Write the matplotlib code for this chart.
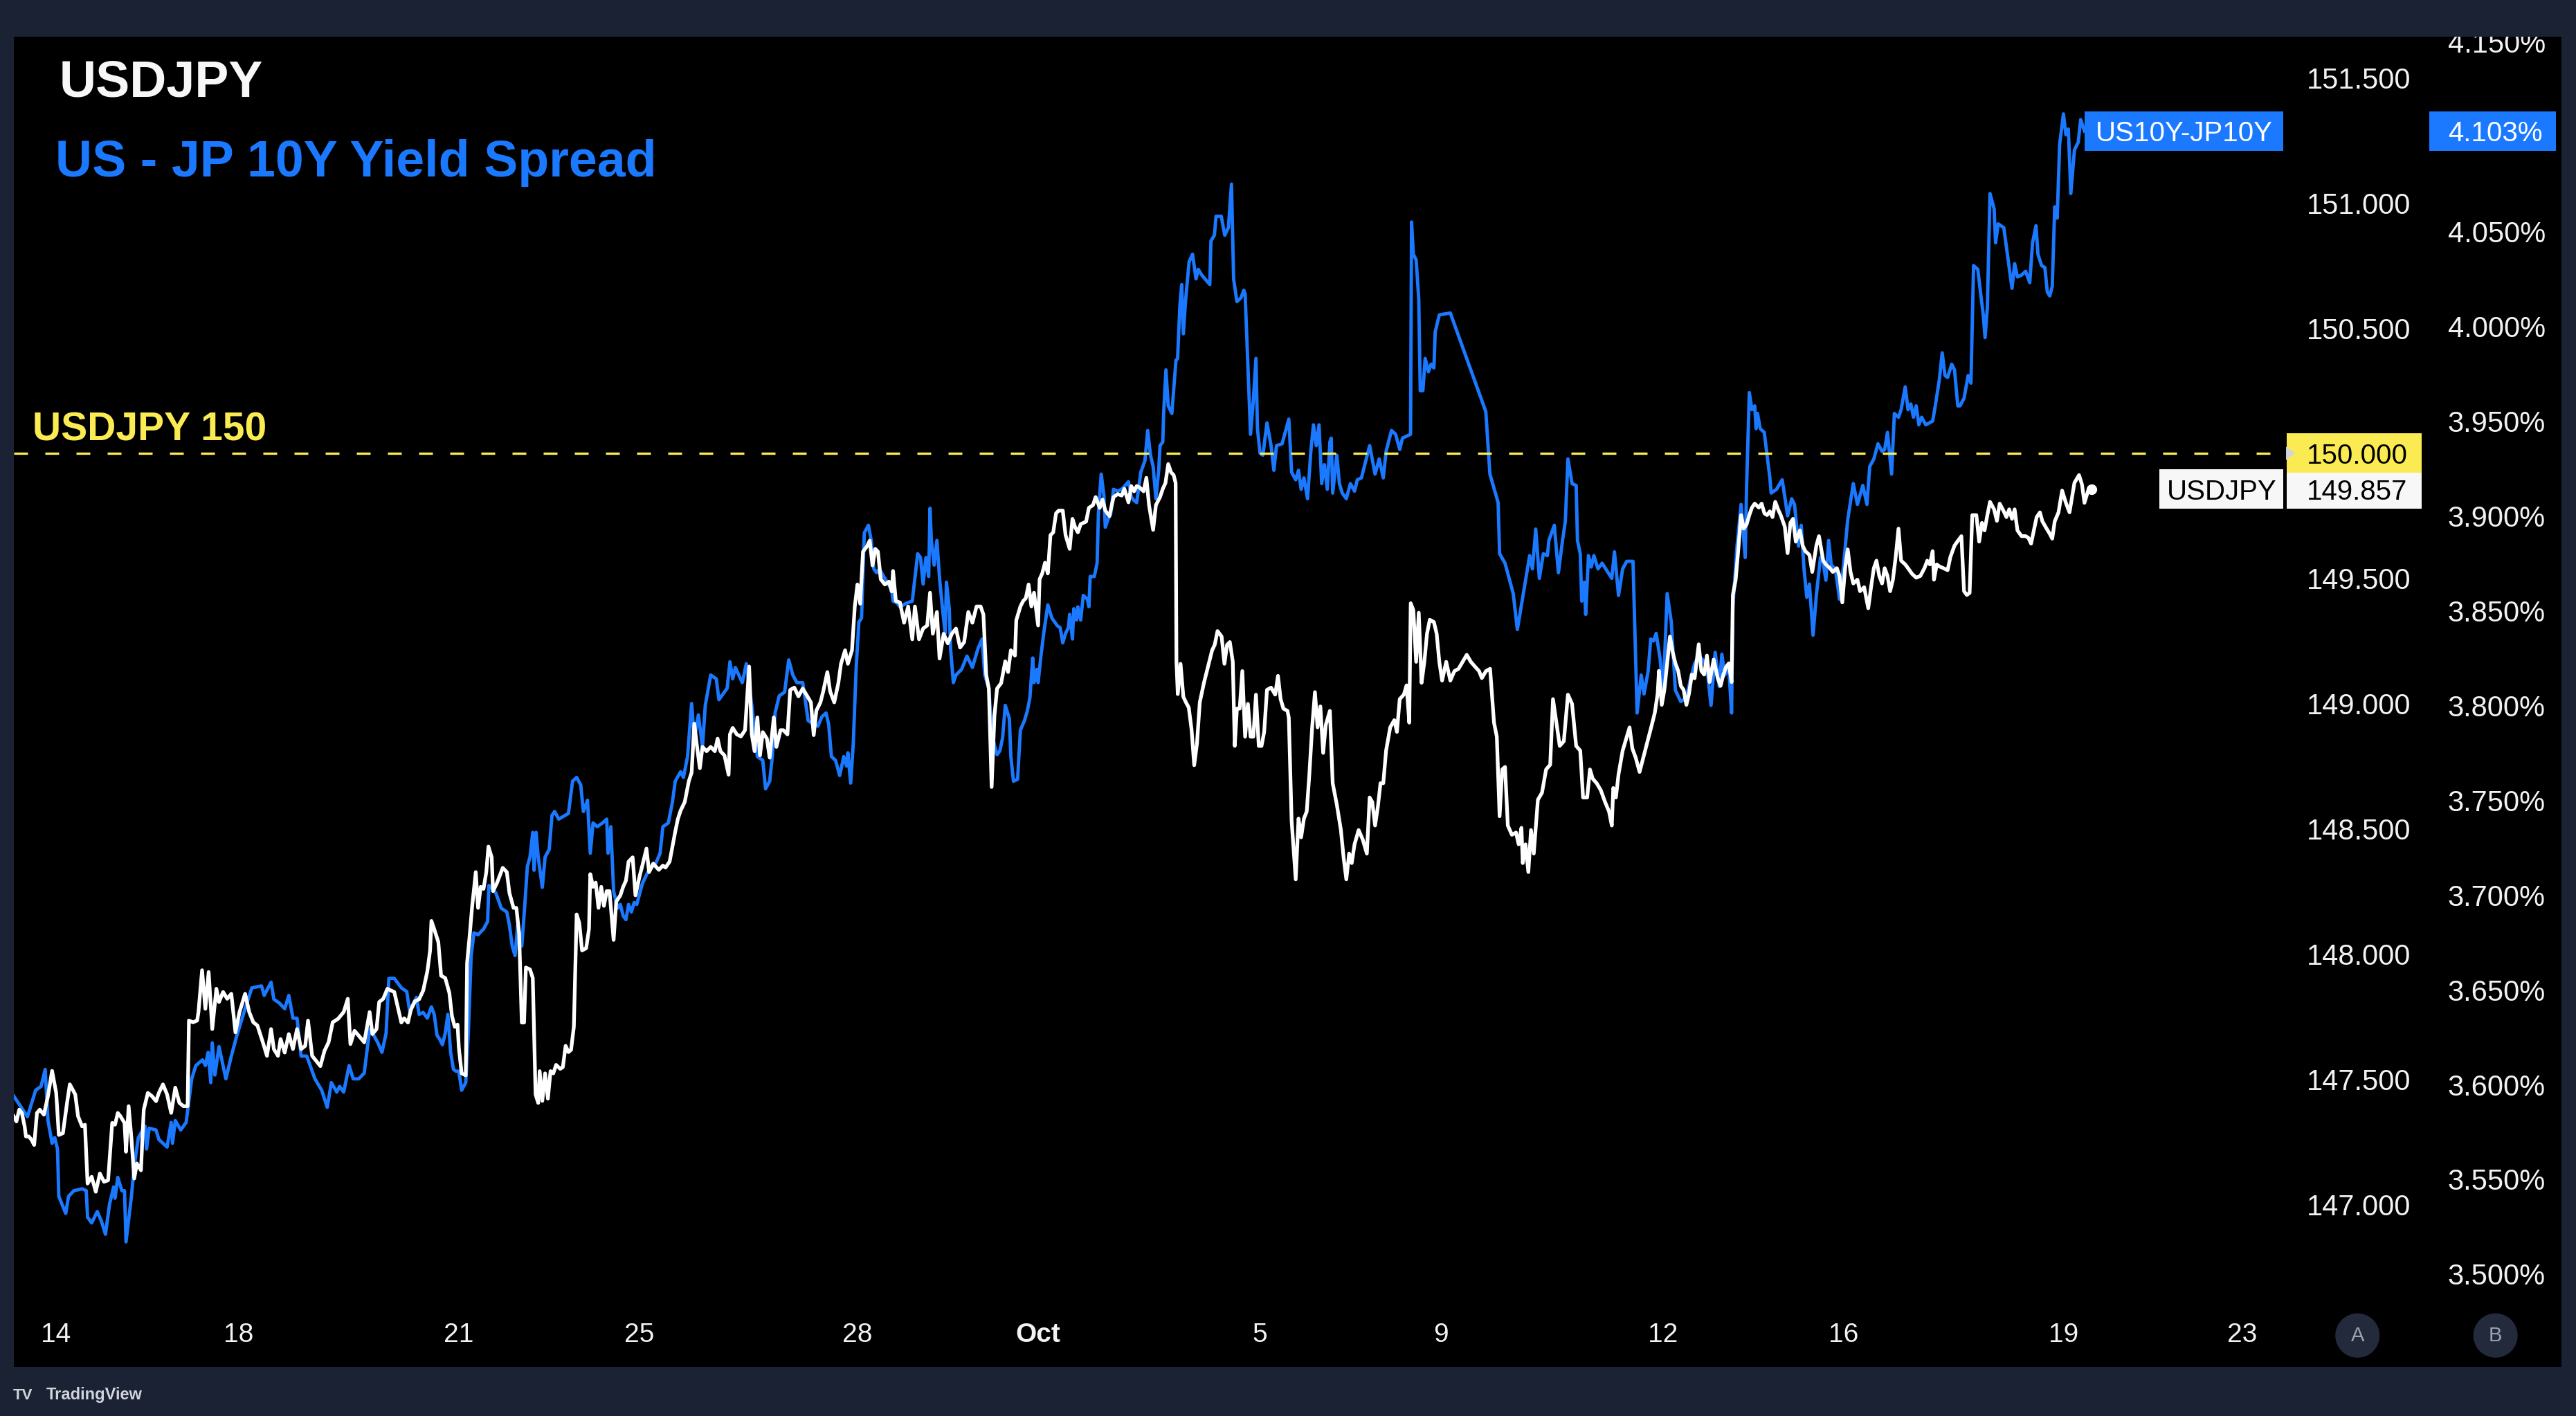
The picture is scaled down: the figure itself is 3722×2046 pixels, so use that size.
import matplotlib
matplotlib.use("Agg")
import matplotlib.pyplot as plt
import matplotlib.patches as patches
from matplotlib.ticker import FuncFormatter

plt.rcParams["font.family"] = ["Liberation Sans", "DejaVu Sans"]

# ---- data: 30-minute bars counted from the left edge of the chart ----
usdjpy_bars = [
    0.3, 2.0, 3.7, 5.3, 7.0, 7.8, 9.5, 11.2, 12.8, 14.5, 16.2, 18.7, 21.2, 23.7, 26.2, 27.8,
    30.3, 32.8, 34.5, 37.8, 39.5, 42.0, 43.7, 45.3, 47.8, 50.3, 52.8, 55.3, 57.8, 60.3, 62.0,
    63.7, 65.3, 67.8, 68.7, 70.3, 72.0, 73.7, 75.3, 77.8, 79.5, 82.0, 84.5, 87.0, 88.7, 91.2,
    93.7, 96.2, 98.7, 101.2, 103.7, 106.2, 107.0, 109.5, 112.0, 112.8, 115.0, 117.0, 119.0,
    121.2, 123.7, 125.3, 127.8, 130.3, 132.8, 135.3, 137.8, 141.2, 143.7, 146.2, 148.7, 152.0,
    154.5, 157.0, 158.7, 161.2, 162.8, 165.3, 167.8, 170.3, 172.8, 175.3, 177.8, 179.5, 182.0,
    185.3, 187.0, 189.5, 192.0, 194.5, 197.8, 201.2, 203.7, 205.3, 207.8, 210.3, 213.7, 217.0,
    218.7, 221.2, 222.8, 225.3, 227.8, 232.0, 236.3, 238.0, 240.3, 242.1, 244.6, 247.1, 249.6,
    252.1, 253.8, 254.6, 256.3, 258.8, 260.5, 263.0, 265.5, 267.1, 268.8, 270.5, 271.3, 273.0,
    275.5, 276.3, 278.0, 279.3, 280.5, 281.6, 283.0, 284.6, 286.3, 288.0, 289.3, 291.3, 292.1,
    294.6, 298.0, 300.5, 302.1, 304.6, 306.3, 308.0, 309.6, 311.0, 312.1, 314.6, 316.3, 318.0,
    319.6, 320.5, 322.1, 323.8, 325.5, 327.1, 328.8, 330.5, 333.0, 334.6, 336.3, 338.0, 339.6,
    341.3, 343.0, 344.6, 346.3, 348.8, 350.5, 351.3, 353.0, 354.6, 356.3, 358.0, 359.6, 361.3,
    363.0, 365.5, 367.1, 369.6, 371.3, 373.0, 374.6, 377.1, 378.8, 381.3, 383.0, 385.5, 387.1,
    389.6, 393.0, 395.5, 397.1, 399.6, 401.3, 403.0, 404.6, 406.3, 408.8, 411.3, 413.0, 414.6,
    416.3, 418.0, 419.6, 422.1, 424.6, 427.1, 428.8, 430.5, 433.0, 435.5, 436.3, 438.0, 440.5,
    443.0, 445.5, 448.0, 449.6, 451.3, 453.0, 454.6, 456.3, 458.8, 460.5, 463.0, 464.6, 467.1,
    468.8, 471.3, 473.0, 475.5, 478.0, 480.6, 483.1, 485.6, 487.3, 488.9, 491.4, 493.1, 495.6,
    497.3, 499.8, 502.3, 503.9, 506.4, 508.1, 510.6, 512.3, 513.9, 515.6, 517.3, 519.8, 521.4,
    523.1, 524.8, 526.4, 528.1, 530.6, 533.1, 534.8, 535.6, 537.3, 539.8, 542.3, 544.8, 547.3,
    548.9, 551.4, 553.9, 556.4, 558.1, 559.8, 562.3, 563.9, 566.4, 568.9, 571.4, 573.9, 576.4,
    578.9, 581.4, 583.9, 586.4, 588.9, 590.6, 592.3, 593.9, 595.6, 597.3, 598.9, 601.4, 603.9,
    605.6, 607.3, 609.8, 610.6, 613.1, 614.8, 616.4, 618.1, 619.8, 621.4, 623.9, 624.8, 626.4,
    628.1, 629.8, 631.4, 633.1, 634.8, 636.4, 638.9, 640.6, 643.1, 644.8, 646.4, 648.1, 649.8,
    653.1, 654.8, 657.3, 658.9, 661.4, 663.1, 664.8, 667.3, 669.8, 672.3, 674.8, 676.4, 678.9,
    680.6, 682.3, 683.9, 685.6, 688.1, 689.8, 691.4, 693.9, 695.6, 698.1, 699.8, 701.4, 703.1,
    704.8, 706.4, 707.6, 708.1, 708.9, 710.6, 712.3, 713.9, 715.6, 717.3, 718.9, 720.6, 722.3,
    724.8, 727.3, 729.8, 731.4, 733.1, 735.6, 737.3, 738.9, 740.6, 742.4, 743.6, 744.9, 746.6,
    748.2, 749.9, 751.6, 753.2, 754.9, 756.5, 758.2, 759.9, 761.5, 763.2, 765.7, 768.2, 769.9,
    771.5, 773.2, 775.7, 776.5, 778.2, 780.7, 782.4, 784.0, 785.7, 787.4, 789.0, 790.7, 792.4,
    794.0, 795.7, 797.4, 799.0, 801.5, 803.2, 805.7, 808.2, 809.9, 811.5, 813.2, 814.8, 816.5,
    819.0, 821.5, 824.0, 825.7, 827.3, 829.0, 830.7, 832.3, 834.0, 835.7, 838.2, 840.7, 842.3,
    844.0, 846.5, 848.2, 849.8, 850.7, 852.3, 854.0, 855.6, 857.3, 859.0, 860.6, 862.3, 864.8,
    866.5, 868.1, 869.8, 872.3, 874.8, 877.3, 879.8, 882.3, 884.8, 887.3, 889.8, 892.3, 894.0,
    896.5, 899.0, 901.4, 903.1, 904.8, 906.4, 908.1, 909.8, 912.3, 914.8, 916.4, 918.1, 918.9,
    920.6, 922.3, 923.9, 925.6, 928.1, 930.6, 933.1, 935.6, 937.3, 939.8, 941.4, 943.9, 946.4,
    948.9, 951.4, 953.9, 955.6, 958.1, 959.8, 961.5, 963.9, 966.4, 969.0, 971.4, 973.1, 974.0,
    975.6, 977.2, 979.7, 982.2, 983.9, 985.6, 987.7, 990.0, 995.2, 997.6, 999.3, 1001.0,
    1001.8, 1003.5, 1005.1, 1006.8, 1008.5, 1010.1, 1011.8, 1013.5, 1015.1, 1016.8, 1018.5,
    1020.1, 1021.8, 1023.5, 1026.0, 1027.6, 1029.3, 1031.0, 1032.6, 1035.1, 1037.6, 1039.3,
    1041.0, 1042.6, 1044.3, 1046.0, 1046.8, 1048.5, 1050.1, 1051.0, 1051.8, 1053.4, 1055.1,
    1056.8, 1058.4, 1060.1, 1062.6, 1064.3, 1066.0, 1067.6, 1069.3, 1070.9, 1072.6, 1074.3,
    1075.9, 1078.4, 1080.1, 1081.8, 1083.4, 1085.1, 1087.6, 1089.3, 1090.9, 1093.4, 1095.1,
    1097.6, 1099.2, 1101.8, 1103.4, 1105.9, 1107.6, 1110.1, 1111.7, 1113.4, 1115.1, 1116.7,
    1118.4, 1120.1, 1122.6, 1124.2, 1126.7, 1129.2, 1130.9, 1132.6, 1134.2, 1135.9, 1137.6,
    1139.2, 1140.9, 1142.5, 1144.2, 1145.9, 1147.6, 1149.2, 1151.7, 1153.4, 1155.9, 1158.4,
    1160.9, 1163.4, 1165.1, 1166.7, 1168.4, 1169.2, 1170.9, 1172.5, 1175.0, 1177.5, 1179.2,
    1181.7, 1183.4, 1185.9, 1187.5, 1189.2, 1190.9, 1192.5, 1195.0, 1196.7, 1198.4, 1200.0,
    1201.7, 1203.3, 1205.8, 1207.5, 1209.2, 1211.7, 1213.3, 1215.0, 1216.7, 1218.3, 1220.0,
    1222.5, 1225.0, 1226.7, 1228.3, 1230.0, 1231.7, 1233.7, 1235.2, 1237.4, 1239.7, 1241.2,
    1242.7, 1245.0, 1247.2, 1249.5, 1251.7, 1254.7, 1257.5, 1259.3, 1260.8, 1263.0, 1265.3,
]
usdjpy = [
    147.352, 147.331, 147.378, 147.365, 147.311, 147.271, 147.271, 147.258, 147.237, 147.365,
    147.378, 147.358, 147.432, 147.533, 147.445, 147.277, 147.284, 147.405, 147.479, 147.439,
    147.352, 147.311, 147.318, 147.083, 147.110, 147.050, 147.123, 147.090, 147.096, 147.325,
    147.318, 147.365, 147.352, 147.325, 147.210, 147.392, 147.264, 147.103, 147.163, 147.136,
    147.378, 147.445, 147.432, 147.412, 147.445, 147.479, 147.439, 147.365, 147.466, 147.405,
    147.392, 147.392, 147.734, 147.727, 147.734, 147.768, 147.935, 147.781, 147.928, 147.700,
    147.861, 147.808, 147.848, 147.821, 147.841, 147.687, 147.768, 147.841, 147.768, 147.727,
    147.714, 147.647, 147.593, 147.700, 147.620, 147.593, 147.660, 147.606, 147.680, 147.620,
    147.700, 147.620, 147.633, 147.734, 147.593, 147.566, 147.552, 147.613, 147.647, 147.727,
    147.741, 147.768, 147.821, 147.640, 147.693, 147.674, 147.647, 147.768, 147.680, 147.700,
    147.808, 147.821, 147.861, 147.848, 147.726, 147.743, 147.726, 147.777, 147.811, 147.819,
    147.854, 147.930, 148.014, 148.132, 148.099, 148.048, 147.913, 147.904, 147.845, 147.752,
    147.709, 147.718, 147.625, 147.523, 147.515, 147.963, 148.082, 148.184, 148.260, 148.327,
    148.184, 148.268, 148.260, 148.327, 148.429, 148.386, 148.251, 148.285, 148.344, 148.327,
    148.243, 148.184, 148.184, 148.082, 147.726, 147.726, 147.946, 147.938, 147.904, 147.439,
    147.405, 147.532, 147.413, 147.523, 147.422, 147.532, 147.523, 147.557, 147.541, 147.548,
    147.633, 147.608, 147.617, 147.709, 148.158, 148.124, 148.014, 148.023, 148.099, 148.319,
    148.268, 148.285, 148.184, 148.268, 148.192, 148.251, 148.251, 148.056, 148.209, 148.234,
    148.268, 148.293, 148.369, 148.386, 148.234, 148.310, 148.353, 148.421, 148.327, 148.361,
    148.336, 148.353, 148.345, 148.369, 148.429, 148.488, 148.539, 148.573, 148.607, 148.691,
    148.725, 148.920, 148.827, 148.742, 148.827, 148.810, 148.827, 148.810, 148.860, 148.810,
    148.793, 148.716, 148.877, 148.903, 148.877, 148.869, 148.894, 149.148, 148.877, 148.810,
    148.945, 148.793, 148.886, 148.860, 148.784, 148.945, 148.827, 148.894, 148.894, 148.877,
    149.055, 149.064, 149.029, 149.060, 149.033, 149.005, 148.874, 148.972, 149.005, 149.049,
    149.126, 149.049, 149.005, 149.082, 149.159, 149.213, 149.159, 149.213, 149.388, 149.476,
    149.399, 149.607, 149.629, 149.651, 149.552, 149.618, 149.607, 149.497, 149.476, 149.487,
    149.448, 149.530, 149.410, 149.404, 149.323, 149.388, 149.257, 149.388, 149.257, 149.300,
    149.312, 149.443, 149.279, 149.366, 149.180, 149.279, 149.241, 149.279, 149.300, 149.224,
    149.246, 149.366, 149.323, 149.388, 149.388, 149.356, 149.115, 149.060, 148.667, 148.951,
    149.060, 149.082, 149.169, 149.126, 149.213, 149.192, 149.333, 149.388, 149.410, 149.421,
    149.476, 149.388, 149.443, 149.312, 149.497, 149.520, 149.563, 149.520, 149.673, 149.684,
    149.760, 149.771, 149.771, 149.673, 149.618, 149.738, 149.705, 149.684, 149.717, 149.727,
    149.782, 149.793, 149.825, 149.782, 149.815, 149.771, 149.749, 149.825, 149.837, 149.831,
    149.858, 149.804, 149.869, 149.848, 149.869, 149.864, 149.848, 149.902, 149.793, 149.694,
    149.793, 149.825, 149.858, 149.881, 149.957, 149.924, 149.913, 149.881, 149.169, 149.038,
    149.159, 149.027, 149.005, 148.984, 148.896, 148.754, 148.841, 149.005, 149.082, 149.148,
    149.213, 149.235, 149.290, 149.268, 149.159, 149.235, 149.246, 149.167, 148.831, 148.980,
    148.980, 149.130, 148.868, 148.999, 148.868, 148.868, 149.036, 148.831, 148.831, 148.887,
    149.055, 149.064, 149.036, 149.111, 149.018, 148.980, 148.971, 148.943, 148.532, 148.298,
    148.541, 148.466, 148.541, 148.569, 148.718, 148.905, 149.046, 148.905, 148.989, 148.803,
    148.915, 148.971, 148.682, 148.597, 148.495, 148.382, 148.298, 148.401, 148.363, 148.438,
    148.495, 148.457, 148.401, 148.625, 148.607, 148.513, 148.588, 148.682, 148.682, 148.812,
    148.905, 148.934, 148.887, 149.018, 149.036, 149.073, 148.924, 149.401, 149.373, 149.167,
    149.363, 149.083, 149.167, 149.279, 149.335, 149.326, 149.279, 149.167, 149.092, 149.167,
    149.092, 149.130, 149.139, 149.167, 149.195, 149.167, 149.148, 149.130, 149.102, 149.130,
    149.139, 148.924, 148.868, 148.550, 148.737, 148.747, 148.513, 148.476, 148.485, 148.438,
    148.504, 148.363, 148.438, 148.327, 148.495, 148.401, 148.616, 148.644, 148.737, 148.756,
    149.018, 148.905, 148.831, 148.850, 149.036, 148.999, 148.831, 148.812, 148.625, 148.625,
    148.737, 148.700, 148.682, 148.654, 148.607, 148.569, 148.513, 148.663, 148.625, 148.718,
    148.812, 148.868, 148.905, 148.821, 148.783, 148.727, 148.858, 148.919, 148.964, 149.040,
    149.131, 148.995, 149.055, 149.161, 149.268, 149.207, 149.161, 149.131, 149.071, 149.055,
    148.995, 149.040, 149.116, 149.101, 149.237, 149.131, 149.116, 149.192, 149.086, 149.176,
    149.101, 149.071, 149.116, 149.146, 149.161, 149.086, 149.434, 149.495, 149.616, 149.692,
    149.753, 149.699, 149.715, 149.753, 149.783, 149.799, 149.783, 149.799, 149.760, 149.753,
    149.768, 149.745, 149.806, 149.776, 149.753, 149.707, 149.601, 149.722, 149.738, 149.647,
    149.692, 149.631, 149.609, 149.594, 149.526, 149.631, 149.669, 149.571, 149.556, 149.541,
    149.526, 149.541, 149.510, 149.404, 149.541, 149.616, 149.526, 149.480, 149.495, 149.449,
    149.465, 149.381, 149.465, 149.541, 149.571, 149.510, 149.480, 149.541, 149.510, 149.449,
    149.495, 149.586, 149.699, 149.571, 149.556, 149.541, 149.518, 149.503, 149.510, 149.541,
    149.571, 149.556, 149.609, 149.495, 149.556, 149.548, 149.541, 149.533, 149.586, 149.631,
    149.647, 149.669, 149.449, 149.434, 149.442, 149.753, 149.753, 149.647, 149.722, 149.692,
    149.753, 149.806, 149.776, 149.730, 149.799, 149.768, 149.745, 149.776, 149.738, 149.776,
    149.692, 149.669, 149.669, 149.662, 149.639, 149.692, 149.745, 149.764, 149.728, 149.703,
    149.678, 149.659, 149.728, 149.764, 149.851, 149.802, 149.764, 149.882, 149.913, 149.875,
    149.802, 149.850, 149.857,
]

spread_bars = [
    0.3, 8.7, 13.7, 17.0, 19.5, 21.2, 23.7, 25.3, 27.0, 27.8, 32.0, 33.7, 37.0, 42.0, 44.5,
    45.3, 47.8, 51.2, 53.7, 56.2, 58.7, 61.2, 62.0, 63.7, 66.2, 67.8, 68.7, 72.0, 73.7, 76.2,
    80.3, 81.2, 82.8, 87.0, 88.7, 93.7, 96.2, 97.0, 98.7, 102.0, 105.3, 108.7, 111.2, 115.3,
    117.0, 118.7, 120.3, 121.2, 122.8, 125.3, 129.5, 132.8, 136.2, 141.2, 145.3, 151.2, 152.8,
    157.0, 158.7, 162.0, 165.3, 167.8, 170.3, 172.8, 175.3, 178.7, 183.7, 187.8, 191.2, 193.7,
    197.0, 198.7, 201.2, 204.5, 207.0, 210.3, 213.7, 217.0, 219.5, 222.0, 224.5, 227.0, 228.7,
    232.0, 236.3, 239.6, 241.3, 245.5, 247.1, 249.6, 252.1, 254.6, 256.3, 258.0, 259.6, 261.3,
    263.0, 264.6, 266.3, 268.0, 269.6, 271.3, 273.0, 275.5, 277.1, 278.8, 280.5, 283.0, 286.3,
    288.8, 289.6, 292.1, 293.8, 295.5, 297.1, 298.8, 300.5, 302.1, 303.8, 305.5, 307.1, 309.6,
    311.3, 313.0, 314.6, 316.3, 317.1, 318.3, 319.6, 322.1, 323.8, 326.3, 328.0, 329.6, 332.1,
    338.0, 340.5, 343.0, 345.5, 347.1, 349.6, 351.3, 353.0, 355.5, 358.8, 361.3, 362.1, 363.8,
    365.5, 368.0, 369.6, 371.3, 373.0, 374.6, 376.3, 378.0, 379.6, 383.0, 386.3, 391.3, 393.8,
    395.5, 398.8, 401.3, 403.0, 406.3, 408.0, 410.5, 413.0, 414.6, 417.1, 419.6, 421.3, 424.6,
    428.0, 429.6, 434.6, 436.3, 438.0, 439.6, 443.8, 446.3, 449.6, 453.0, 456.3, 458.0, 460.5,
    462.1, 463.8, 466.3, 469.6, 472.1, 474.6, 477.1, 480.6, 482.3, 483.9, 487.3, 489.8, 492.3,
    494.8, 496.4, 498.1, 500.6, 503.1, 505.6, 507.3, 508.1, 509.8, 511.4, 513.1, 514.8, 516.4,
    518.1, 520.6, 522.3, 523.9, 525.6, 527.3, 530.6, 534.8, 535.6, 538.1, 539.8, 543.9, 547.3,
    548.9, 550.6, 552.3, 553.9, 555.6, 557.3, 558.1, 558.9, 560.6, 562.3, 563.9, 565.6, 567.3,
    568.1, 569.8, 570.6, 572.3, 573.9, 577.3, 580.6, 583.9, 587.3, 589.8, 591.4, 593.9, 595.6,
    597.3, 598.9, 600.6, 602.3, 603.9, 606.4, 607.3, 608.9, 611.4, 613.1, 615.6, 617.3, 618.9,
    620.6, 621.4, 623.1, 623.9, 625.6, 627.3, 629.8, 632.3, 635.6, 637.3, 638.9, 640.6, 642.3,
    643.1, 644.8, 645.6, 647.3, 648.1, 649.8, 651.4, 653.9, 654.8, 655.6, 658.1, 659.8, 660.6,
    662.3, 663.9, 664.8, 666.4, 668.1, 669.8, 672.3, 674.8, 678.9, 680.6, 682.3, 683.9, 686.4,
    688.9, 690.6, 692.3, 693.9, 695.6, 697.3, 698.1, 699.8, 700.3, 701.7, 703.1, 705.3, 707.8,
    708.8, 710.2, 711.3, 712.3, 713.7, 715.8, 717.9, 720.0, 721.4, 723.5, 728.4, 729.1, 731.2,
    732.2, 735.4, 737.5, 739.7, 741.6, 742.9, 744.9, 747.4, 749.1, 749.9, 751.5, 753.2, 754.9,
    756.5, 757.4, 759.0, 760.7, 763.2, 765.7, 767.4, 769.0, 772.4, 776.5, 778.2, 780.7, 782.4,
    784.0, 785.7, 787.9, 789.9, 791.5, 793.2, 794.9, 796.5, 798.2, 799.9, 801.5, 802.3, 803.2,
    805.7, 807.3, 809.0, 811.5, 814.0, 816.5, 818.2, 820.7, 825.7, 829.0, 831.5, 834.0, 835.7,
    839.0, 841.5, 844.0, 845.7, 850.6, 851.2, 852.3, 854.0, 855.6, 856.5, 858.1, 859.5, 861.5,
    863.1, 864.8, 865.6, 868.1, 874.8, 896.4, 898.9, 903.9, 904.8, 908.1, 913.1, 915.6, 923.1,
    924.8, 926.8, 929.0, 931.4, 933.9, 934.8, 938.1, 940.6, 943.1, 944.8, 946.4, 948.9, 951.4,
    952.2, 953.9, 954.8, 956.4, 957.2, 958.9, 960.6, 962.2, 964.7, 967.2, 973.1, 974.7, 977.2,
    979.7, 982.2, 984.7, 986.0, 988.5, 991.0, 992.7, 995.2, 996.8, 998.5, 1000.1, 1002.6,
    1004.3, 1006.8, 1009.3, 1011.8, 1015.1, 1018.5, 1021.0, 1023.5, 1026.0, 1028.5, 1031.0,
    1033.5, 1036.0, 1038.5, 1040.1, 1041.8, 1044.3, 1046.0, 1046.8, 1049.3, 1051.8, 1053.4,
    1054.3, 1055.1, 1056.8, 1058.4, 1060.1, 1060.9, 1061.8, 1063.4, 1065.9, 1069.3, 1070.1,
    1073.4, 1076.8, 1078.4, 1080.1, 1082.6, 1084.3, 1086.8, 1088.4, 1090.1, 1091.8, 1093.4,
    1095.6, 1097.6, 1100.1, 1101.7, 1103.4, 1105.1, 1106.7, 1109.2, 1111.7, 1114.2, 1116.7,
    1120.1, 1122.6, 1125.9, 1128.4, 1130.1, 1132.6, 1135.1, 1137.6, 1139.2, 1140.9, 1143.4,
    1145.1, 1147.6, 1149.2, 1151.7, 1153.4, 1155.1, 1156.7, 1158.4, 1160.0, 1161.7, 1164.2,
    1168.4, 1170.0, 1172.5, 1174.2, 1175.9, 1177.5, 1180.0, 1181.7, 1183.7, 1185.0, 1187.5,
    1190.0, 1191.7, 1193.3, 1195.9, 1197.5, 1199.2, 1200.3, 1201.7, 1203.3, 1205.8, 1206.7,
    1208.3, 1211.7, 1214.2, 1216.7, 1218.3, 1220.0, 1222.5, 1225.0, 1227.5, 1229.2, 1231.3,
    1232.5, 1234.7, 1236.7, 1238.2, 1239.7, 1241.2, 1242.7, 1244.2, 1245.7, 1248.0, 1249.5,
    1251.0, 1252.5, 1254.7, 1257.0, 1258.5, 1260.8,
]
spread = [
    3.594, 3.583, 3.597, 3.599, 3.608, 3.581, 3.569, 3.572, 3.566, 3.541, 3.532, 3.541, 3.544,
    3.545, 3.544, 3.530, 3.527, 3.533, 3.528, 3.521, 3.537, 3.546, 3.540, 3.551, 3.544, 3.544,
    3.517, 3.541, 3.557, 3.572, 3.578, 3.566, 3.577, 3.576, 3.571, 3.567, 3.580, 3.569, 3.581,
    3.576, 3.580, 3.603, 3.610, 3.613, 3.610, 3.617, 3.601, 3.622, 3.605, 3.620, 3.603, 3.615,
    3.626, 3.640, 3.651, 3.652, 3.647, 3.654, 3.645, 3.643, 3.640, 3.647, 3.635, 3.635, 3.615,
    3.615, 3.603, 3.597, 3.588, 3.601, 3.596, 3.599, 3.596, 3.610, 3.603, 3.603, 3.606, 3.629,
    3.626, 3.622, 3.617, 3.627, 3.656, 3.656, 3.651, 3.649, 3.639, 3.646, 3.637, 3.638, 3.635,
    3.641, 3.637, 3.626, 3.624, 3.621, 3.627, 3.637, 3.617, 3.608, 3.607, 3.607, 3.597, 3.601,
    3.628, 3.668, 3.680, 3.679, 3.682, 3.686, 3.705, 3.703, 3.701, 3.697, 3.693, 3.692, 3.691,
    3.684, 3.673, 3.668, 3.684, 3.673, 3.693, 3.715, 3.720, 3.733, 3.713, 3.733, 3.720, 3.704,
    3.720, 3.724, 3.742, 3.744, 3.740, 3.743, 3.760, 3.762, 3.758, 3.744, 3.750, 3.722, 3.738,
    3.736, 3.738, 3.740, 3.722, 3.736, 3.702, 3.693, 3.695, 3.689, 3.687, 3.695, 3.691, 3.696,
    3.695, 3.706, 3.712, 3.717, 3.722, 3.736, 3.738, 3.749, 3.760, 3.765, 3.762, 3.773, 3.801,
    3.782, 3.795, 3.778, 3.800, 3.816, 3.814, 3.803, 3.809, 3.823, 3.814, 3.820, 3.812, 3.822,
    3.800, 3.773, 3.771, 3.756, 3.760, 3.773, 3.796, 3.805, 3.807, 3.824, 3.816, 3.812, 3.812,
    3.802, 3.792, 3.790, 3.789, 3.794, 3.796, 3.790, 3.773, 3.771, 3.763, 3.773, 3.768, 3.775,
    3.759, 3.780, 3.819, 3.844, 3.846, 3.891, 3.895, 3.887, 3.872, 3.870, 3.872, 3.867, 3.861,
    3.855, 3.854, 3.852, 3.854, 3.855, 3.867, 3.880, 3.878, 3.864, 3.878, 3.868, 3.904, 3.887,
    3.874, 3.887, 3.867, 3.852, 3.838, 3.865, 3.851, 3.830, 3.812, 3.816, 3.819, 3.826, 3.820,
    3.830, 3.835, 3.816, 3.809, 3.787, 3.779, 3.774, 3.776, 3.783, 3.800, 3.793, 3.773, 3.760,
    3.761, 3.787, 3.792, 3.797, 3.804, 3.825, 3.812, 3.819, 3.812, 3.826, 3.838, 3.853, 3.846,
    3.842, 3.841, 3.833, 3.838, 3.841, 3.848, 3.835, 3.851, 3.845, 3.852, 3.845, 3.858, 3.856,
    3.852, 3.868, 3.868, 3.875, 3.901, 3.922, 3.911, 3.894, 3.898, 3.901, 3.914, 3.913, 3.914,
    3.918, 3.910, 3.908, 3.907, 3.923, 3.929, 3.945, 3.932, 3.926, 3.909, 3.924, 3.937, 3.939,
    3.954, 3.977, 3.958, 3.954, 3.982, 3.983, 4.011, 4.022, 3.996, 4.014, 4.034, 4.038, 4.025,
    4.030, 4.027, 4.022, 4.045, 4.048, 4.058, 4.058, 4.048, 4.052, 4.075, 4.025, 4.013, 4.015,
    4.019, 4.017, 3.981, 3.943, 3.961, 3.983, 3.946, 3.933, 3.932, 3.949, 3.937, 3.924, 3.937,
    3.938, 3.951, 3.923, 3.919, 3.924, 3.914, 3.920, 3.909, 3.934, 3.948, 3.937, 3.948, 3.917,
    3.927, 3.914, 3.939, 3.941, 3.912, 3.932, 3.917, 3.912, 3.909, 3.917, 3.913, 3.919, 3.920,
    3.937, 3.922, 3.930, 3.920, 3.934, 3.945, 3.943, 3.935, 3.941, 3.943, 4.055, 4.038, 4.035,
    4.014, 3.966, 3.966, 3.983, 3.976, 3.980, 3.978, 3.997, 4.006, 4.007, 3.955, 3.922, 3.907,
    3.880, 3.875, 3.859, 3.840, 3.879, 3.872, 3.893, 3.867, 3.880, 3.879, 3.887, 3.895, 3.870,
    3.887, 3.897, 3.930, 3.917, 3.916, 3.887, 3.880, 3.855, 3.865, 3.848, 3.879, 3.873, 3.879,
    3.872, 3.875, 3.867, 3.881, 3.858, 3.872, 3.876, 3.876, 3.876, 3.796, 3.816, 3.806, 3.818,
    3.835, 3.834, 3.838, 3.824, 3.804, 3.859, 3.844, 3.808, 3.802, 3.804, 3.814, 3.822, 3.826,
    3.824, 3.820, 3.800, 3.828, 3.810, 3.827, 3.816, 3.820, 3.796, 3.852, 3.884, 3.906, 3.888,
    3.878, 3.914, 3.965, 3.956, 3.958, 3.946, 3.954, 3.946, 3.944, 3.920, 3.912, 3.914, 3.919,
    3.910, 3.900, 3.909, 3.906, 3.884, 3.895, 3.872, 3.857, 3.864, 3.837, 3.858, 3.878, 3.876,
    3.866, 3.887, 3.874, 3.872, 3.856, 3.874, 3.898, 3.917, 3.906, 3.916, 3.906, 3.926, 3.930,
    3.938, 3.934, 3.935, 3.944, 3.922, 3.954, 3.952, 3.956, 3.968, 3.956, 3.959, 3.952, 3.958,
    3.948, 3.952, 3.948, 3.950, 3.958, 3.972, 3.986, 3.974, 3.973, 3.980, 3.977, 3.958, 3.958,
    3.962, 3.974, 3.970, 4.032, 4.030, 4.018, 4.006, 3.994, 4.010, 4.070, 4.062, 4.044, 4.054,
    4.052, 4.036, 4.020, 4.033, 4.026, 4.027, 4.029, 4.023, 4.044, 4.053, 4.038, 4.032, 4.031,
    4.018, 4.016, 4.021, 4.063, 4.057, 4.096, 4.112, 4.101, 4.104, 4.070, 4.093, 4.097, 4.109,
    4.103,
]

date_ticks = [26, 137, 271, 381, 514, 624, 759, 869, 1004, 1114, 1248, 1357]
date_labels = ["14", "18", "21", "25", "28", "Oct", "5", "9", "12", "16", "19", "23"]
usdjpy_ticks = [147.0, 147.5, 148.0, 148.5, 149.0, 149.5, 150.0, 150.5, 151.0, 151.5]
spread_ticks = [3.50, 3.55, 3.60, 3.65, 3.70, 3.75, 3.80, 3.85, 3.90, 3.95, 4.00, 4.05, 4.10, 4.15]
level = 150.0

NAVY = "#1a2234"
BLUE = "#1a79ff"
YELLOW = "#fbeb52"
TXT = "#f2f2f2"

# layout is measured on a 1568 x 862 copy of the screenshot
def fx(px):
    return px / 1568.0

def fy(py):
    return 1.0 - py / 862.0

fig = plt.figure(figsize=(37.22, 20.46), dpi=100)
fig.patch.set_facecolor(NAVY)
fig.add_artist(patches.Rectangle((fx(8.5), fy(832)), fx(1559) - fx(8.5), fy(22.5) - fy(832),
                                 transform=fig.transFigure, facecolor="black", edgecolor="none", zorder=-10))

ax_s = fig.add_axes([fx(8.5), fy(795), fx(1391) - fx(8.5), fy(22.5) - fy(795)])
ax_s.set_facecolor("none")
ax_p = ax_s.twinx()

ax_s.plot(spread_bars, spread, color=BLUE, lw=3.5)
ax_p.plot(usdjpy_bars, usdjpy, color="white", lw=3.8)
ax_p.plot(usdjpy_bars[-1], usdjpy[-1], "o", color="white", ms=10)
ax_p.axhline(level, color=YELLOW, lw=2.4, dashes=(6.0, 7.5))

ax_s.set_xlim(0.5, 1383)
ax_s.set_ylim(3.4832, 4.1526)
ax_p.set_ylim(146.594, 151.663)

for a in (ax_s, ax_p):
    for sp in a.spines.values():
        sp.set_visible(False)

# labels hidden under the last-value tags are left blank
def spread_fmt(v, pos):
    return "" if abs(v - spread[-1]) < 0.02 else "%.3f%%" % v

def usdjpy_fmt(v, pos):
    return "" if abs(v - level) < 0.01 else "%.3f" % v

ax_s.yaxis.tick_right()
ax_s.set_yticks(spread_ticks)
ax_s.yaxis.set_major_formatter(FuncFormatter(spread_fmt))
ax_s.tick_params(axis="y", length=0, pad=169, labelsize=30, labelcolor=TXT)
ax_p.set_yticks(usdjpy_ticks)
ax_p.yaxis.set_major_formatter(FuncFormatter(usdjpy_fmt))
ax_p.tick_params(axis="y", length=0, pad=22, labelsize=30, labelcolor=TXT)
ax_s.set_xticks(date_ticks, date_labels)
ax_s.tick_params(axis="x", length=0, pad=17, labelsize=28, labelcolor=TXT)
ax_s.get_xticklabels()[date_labels.index("Oct")].set_fontweight("bold")

# navy strip over the top so the 4.150% label is cut like in the app
fig.add_artist(patches.Rectangle((0, fy(22.5)), 1, 1 - fy(22.5), transform=fig.transFigure,
                                 facecolor=NAVY, edgecolor="none", zorder=4))

inv = fig.transFigure.inverted()

def tag(ax, value, x0, x1, text, fc, tc, tx=None):
    yc = inv.transform(ax.transData.transform((0, value)))[1]
    h = 24 / 862.0
    fig.add_artist(patches.Rectangle((fx(x0), yc - h / 2), fx(x1) - fx(x0), h, transform=fig.transFigure,
                                     facecolor=fc, edgecolor="none", zorder=5))
    if tx is None:
        fig.text(fx((x0 + x1) / 2), yc, text, ha="center", va="center_baseline",
                 color=tc, fontsize=29, zorder=6)
    else:
        fig.text(fx(tx), yc, text, ha="left", va="center_baseline", color=tc, fontsize=29, zorder=6)
    return yc

tag(ax_s, spread[-1], 1269, 1390, "US10Y-JP10Y", BLUE, "white")
tag(ax_s, spread[-1], 1478.5, 1555.6, "%.3f%%" % spread[-1], BLUE, "white", tx=1490)
tag(ax_p, usdjpy[-1], 1314.6, 1390, "USDJPY", "#f7f7f7", "black")
tag(ax_p, usdjpy[-1], 1392, 1474, "%.3f" % usdjpy[-1], "#f7f7f7", "black", tx=1404)
yl = tag(ax_p, level, 1392, 1474, "%.3f" % level, YELLOW, "black", tx=1404)
fig.add_artist(patches.Polygon([(fx(1391.5), yl + 4 / 862.0), (fx(1397), yl), (fx(1391.5), yl - 4 / 862.0)],
                               closed=True, transform=fig.transFigure, facecolor="#d1d4dc",
                               edgecolor="none", zorder=7))

fig.text(fx(36), fy(59), "USDJPY", fontsize=53, fontweight="bold", color="#f7f7f7", va="baseline")
fig.text(fx(33.6), fy(107.4), "US - JP 10Y Yield Spread", fontsize=53, fontweight="bold",
         color=BLUE, va="baseline")
fig.text(fx(20), fy(268), "USDJPY 150", fontsize=41, fontweight="bold", color=YELLOW, va="baseline")

# A / B buttons at the end of the time axis
for cx, letter in [(1435, "A"), (1519, "B")]:
    fig.add_artist(patches.Ellipse((fx(cx), fy(813)), 27 / 1568.0, 27 / 862.0, transform=fig.transFigure,
                                   facecolor="#232a3c", edgecolor="none", zorder=2))
    fig.text(fx(cx), fy(813), letter, ha="center", va="center", fontsize=21, color="#9ea3ae", zorder=3)

fig.text(fx(8), fy(852), "TV", fontsize=16, fontweight="bold", color="#d1d4dc", va="baseline")
fig.text(fx(28), fy(852), "TradingView", fontsize=17, fontweight="bold", color="#d1d4dc", va="baseline")

fig.savefig("out.png", dpi=100, facecolor=NAVY)
